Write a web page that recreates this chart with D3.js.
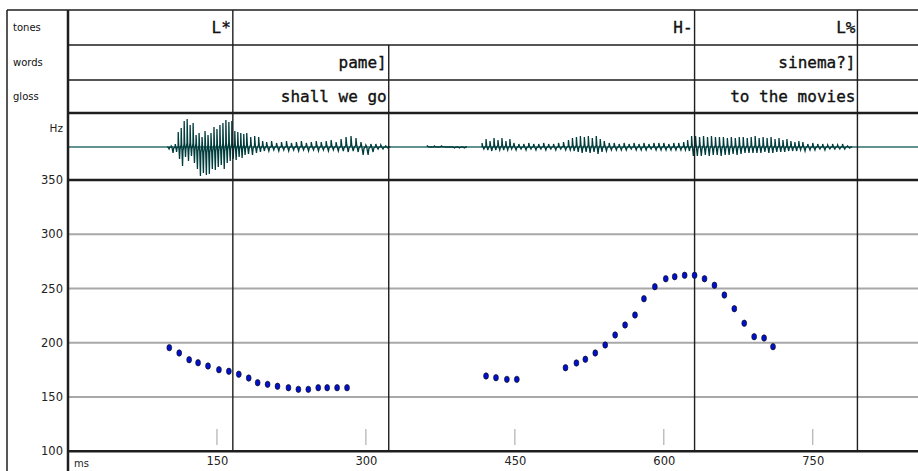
<!DOCTYPE html>
<html><head><meta charset="utf-8">
<script src="https://cdn.jsdelivr.net/npm/d3@7"></script>
<style>
html,body{margin:0;padding:0;background:#fff;}
svg{display:block;}
</style></head>
<body>
<svg id="chart" width="918" height="471"></svg>
<script>
// ---------- data ----------
const tierNames = ["tones", "words", "gloss"];
const toneTimes = [166, 631, 795];
const toneLabels = ["L*", "H-", "L%"];
const wordTimes = [166, 323, 631, 795];
const wordLabels = ["", "pame]", "", "sinema?]"];
const glossTimes = [166, 323, 631, 795];
const glossLabels = ["", "shall we go", "", "to the movies"];

const xTicks = [150, 300, 450, 600, 750];
const yTicks = [100, 150, 200, 250, 300, 350];
const yGrid = [150, 200, 250, 300];

const f0Times = [102,112,122,131,141,152,162,172,182,191,201,211,222,232,242,252,261,271,281,
                 421,431,442,452,
                 501,512,521,531,541,551,561,571,580,591,602,611,621,631,641,651,661,671,681,691,701,710];
const f0Values = [195.5,190.6,184.4,181.6,178.6,175.2,173.7,171,167.5,163.2,161.7,159.9,158.6,157.1,157.1,158.6,158.6,158.6,158.6,
                  169.4,167.8,166.3,166.3,
                  177,181.4,184.8,190.6,198,207.2,216.4,225.6,240.6,251.7,259,260.9,262.2,262.2,259,253,244,231.4,218,205.6,204.4,196.4];

// waveform envelope (ms, upper amplitude, lower amplitude)
const waveT = [100,104,108,111,114,117,120,123,126,129,132,135,138,141,144,147,150,153,156,159,162,165,168,171,174,177,180,184,188,192,196,200,205,210,215,220,225,230,235,240,245,250,255,260,265,270,275,280,285,290,295,300,305,310,315,320,
  362,369,376,387,392,397,
  417,421,425,429,433,437,441,445,449,454,459,464,469,474,479,484,489,494,499,504,508,512,516,520,524,528,532,536,540,545,550,555,560,565,570,575,580,585,590,595,600,605,610,615,620,624,628,632,636,640,644,648,652,656,660,664,668,672,676,680,684,688,692,696,700,704,708,712,716,720,724,728,732,736,740,745,750,755,760,765,770,775,780,785];
const waveHi = [0,1,3,15,19,26,28,22,24,12,14,10,16,12,14,20,18,22,24,27,25,26,16,15,14,13,14,10,11,10,6,5,6,4,5,6,4,5,6,4,5,6,5,6,7,5,8,10,11,9,5,2,3,3,2,1,
  1,1,1,0,0,0,
  4,8,6,9,7,9,6,8,4,3,3,4,3,3,4,3,3,4,5,7,9,10,11,10,11,9,11,8,6,4,4,3,4,3,4,3,4,3,4,4,4,3,4,4,5,7,11,11,10,11,10,11,10,10,10,9,10,9,10,10,9,10,11,9,10,9,10,8,9,7,8,6,5,6,5,3,4,3,3,2,3,2,3,1];
const waveLo = [2,6,5,12,19,10,14,9,16,22,29,26,28,27,22,23,20,18,22,16,14,12,13,10,11,8,7,8,6,5,4,4,3,4,3,4,3,4,3,4,3,4,3,4,3,4,4,5,4,5,8,8,5,2,2,1,
  0,0,0,1,1,1,
  2,3,4,3,3,3,3,2,3,2,3,2,3,2,3,2,3,2,3,3,4,5,6,5,6,5,7,5,4,3,3,3,3,2,3,3,3,2,3,3,3,3,3,3,3,4,9,9,9,8,9,8,8,9,8,8,7,8,7,6,6,6,6,6,5,6,6,5,5,5,4,4,4,3,4,3,3,2,3,2,2,2,2,1];

// ---------- layout ----------
const svg = d3.select("#chart");
const L = 68, R = 918, OUT = 7, TOP = 10;
const tierY = [10, 45, 80, 113];
const waveTop = 113, waveBot = 180, pitchBot = 451.3;

const x = d3.scaleLinear().domain([0, 856]).range([L, R]);
const y = d3.scaleLinear().domain([100, 350]).range([pitchBot, waveBot]);
const w = d3.scaleLinear().domain([-33, 33]).range([waveBot, waveTop + 1]);

const lineCol = "#1e1e1e";

// gridlines
svg.append("g").selectAll("line").data(yGrid).join("line")
  .attr("x1", L).attr("x2", R).attr("y1", d => y(d)).attr("y2", d => y(d))
  .attr("stroke", "#a8a8a8").attr("stroke-width", 2);

// x tick marks
svg.append("g").selectAll("line").data(xTicks).join("line")
  .attr("x1", d => x(d)).attr("x2", d => x(d)).attr("y1", 429).attr("y2", 445)
  .attr("stroke", "#b0b0b0").attr("stroke-width", 1.2);

// waveform baseline
svg.append("line").attr("x1", L).attr("x2", R).attr("y1", w(0)).attr("y2", w(0))
  .attr("stroke", "#2f6e6e").attr("stroke-width", 1.5);

// waveform segments
const samples = waveT.map((t, i) => ({t, hi: waveHi[i], lo: waveLo[i]}));
const segs = [];
samples.forEach((s, i) => {
  if (i === 0 || s.t - samples[i - 1].t > 12) segs.push([]);
  segs[segs.length - 1].push(s);
});
segs.forEach(seg => {
  const p = d3.path();
  p.moveTo(x(seg[0].t), w(0));
  seg.forEach((s, i) => {
    const dt = i < seg.length - 1 ? seg[i + 1].t - s.t : (i > 0 ? s.t - seg[i - 1].t : 4);
    p.lineTo(x(s.t), w(s.hi));
    p.lineTo(x(s.t + dt * 0.15), w(s.hi * 0.2));
    p.lineTo(x(s.t + dt * 0.45), w(-s.lo));
    p.lineTo(x(s.t + dt * 0.6), w(-s.lo * 0.2));
    p.lineTo(x(s.t + dt * 0.95), w(s.hi * 0.15));
  });
  p.lineTo(x(seg[seg.length - 1].t + 3), w(0));
  svg.append("path").attr("d", p.toString()).attr("fill", "none")
    .attr("stroke", "#003c3c").attr("stroke-width", 1.3).attr("stroke-linejoin", "miter");
});

// frame
const frame = svg.append("g").attr("stroke", lineCol).attr("fill", "none");
frame.append("line").attr("x1", OUT).attr("x2", R).attr("y1", TOP).attr("y2", TOP).attr("stroke-width", 1.5);
frame.append("line").attr("x1", OUT).attr("x2", OUT).attr("y1", TOP).attr("y2", 471).attr("stroke-width", 1.5);
frame.append("line").attr("x1", L).attr("x2", L).attr("y1", TOP).attr("y2", 471).attr("stroke-width", 2.5);
[45, 80].forEach(yy => frame.append("line").attr("x1", L).attr("x2", R).attr("y1", yy).attr("y2", yy).attr("stroke-width", 1.5));
frame.append("line").attr("x1", L).attr("x2", R).attr("y1", 113).attr("y2", 113).attr("stroke-width", 2.5);
frame.append("line").attr("x1", L).attr("x2", R).attr("y1", waveBot).attr("y2", waveBot).attr("stroke-width", 2.5);
frame.append("line").attr("x1", L).attr("x2", R).attr("y1", pitchBot).attr("y2", pitchBot).attr("stroke-width", 2.5);

// tiers
const tiers = [
  {times: toneTimes, labels: toneLabels},
  {times: wordTimes, labels: wordLabels},
  {times: glossTimes, labels: glossLabels}
];
tiers.forEach((tier, ti) => {
  const y0 = tierY[ti], y1 = tierY[ti + 1];
  tier.times.forEach((t, i) => {
    const startsHere = ti === 0 || !tiers.slice(0, ti).some(o => o.times.includes(t));
    if (startsHere) {
      svg.append("line").attr("x1", x(t)).attr("x2", x(t)).attr("y1", y0).attr("y2", pitchBot)
        .attr("stroke", lineCol).attr("stroke-width", 1.4);
    }
    if (tier.labels[i]) {
      svg.append("text").attr("x", x(t) - 2).attr("y", (y0 + y1) / 2 + 5.5)
        .attr("text-anchor", "end")
        .attr("font-family", "'DejaVu Sans Mono', monospace").attr("font-size", 16)
        .attr("fill", "#111").attr("stroke", "#111").attr("stroke-width", 0.35)
        .text(tier.labels[i]);
    }
  });
  svg.append("text").attr("x", 13).attr("y", (y0 + y1) / 2 + 3)
    .attr("font-family", "'DejaVu Sans', sans-serif").attr("font-size", 10)
    .attr("fill", "#111").text(tierNames[ti]);
});

// y axis labels
const yAxis = d3.axisLeft(y).tickValues(yTicks).tickSize(0).tickPadding(4);
const gy = svg.append("g").attr("transform", `translate(${L - 1},0)`).call(yAxis);
gy.select(".domain").remove();
gy.selectAll("text").attr("font-family", "'DejaVu Sans', sans-serif").attr("font-size", 11.5).attr("fill", "#222");

svg.append("text").attr("x", 63).attr("y", 132).attr("text-anchor", "end")
  .attr("font-family", "'DejaVu Sans', sans-serif").attr("font-size", 10.5).attr("fill", "#222").text("Hz");

// x axis labels
const xAxis = d3.axisBottom(x).tickValues(xTicks).tickSize(0).tickPadding(6);
const gx = svg.append("g").attr("transform", `translate(0,${pitchBot})`).call(xAxis);
gx.select(".domain").remove();
gx.selectAll("text").attr("font-family", "'DejaVu Sans', sans-serif").attr("font-size", 11.5).attr("fill", "#222");

svg.append("text").attr("x", 74).attr("y", 467)
  .attr("font-family", "'DejaVu Sans', sans-serif").attr("font-size", 10).attr("fill", "#222").text("ms");

// pitch points
svg.append("g").selectAll("ellipse").data(f0Times.map((t, i) => [t, f0Values[i]])).join("ellipse")
  .attr("cx", d => x(d[0])).attr("cy", d => y(d[1]))
  .attr("rx", 2.4).attr("ry", 3.2)
  .attr("fill", "#0010d0").attr("stroke", "#111").attr("stroke-width", 0.7);
</script>
</body></html>
